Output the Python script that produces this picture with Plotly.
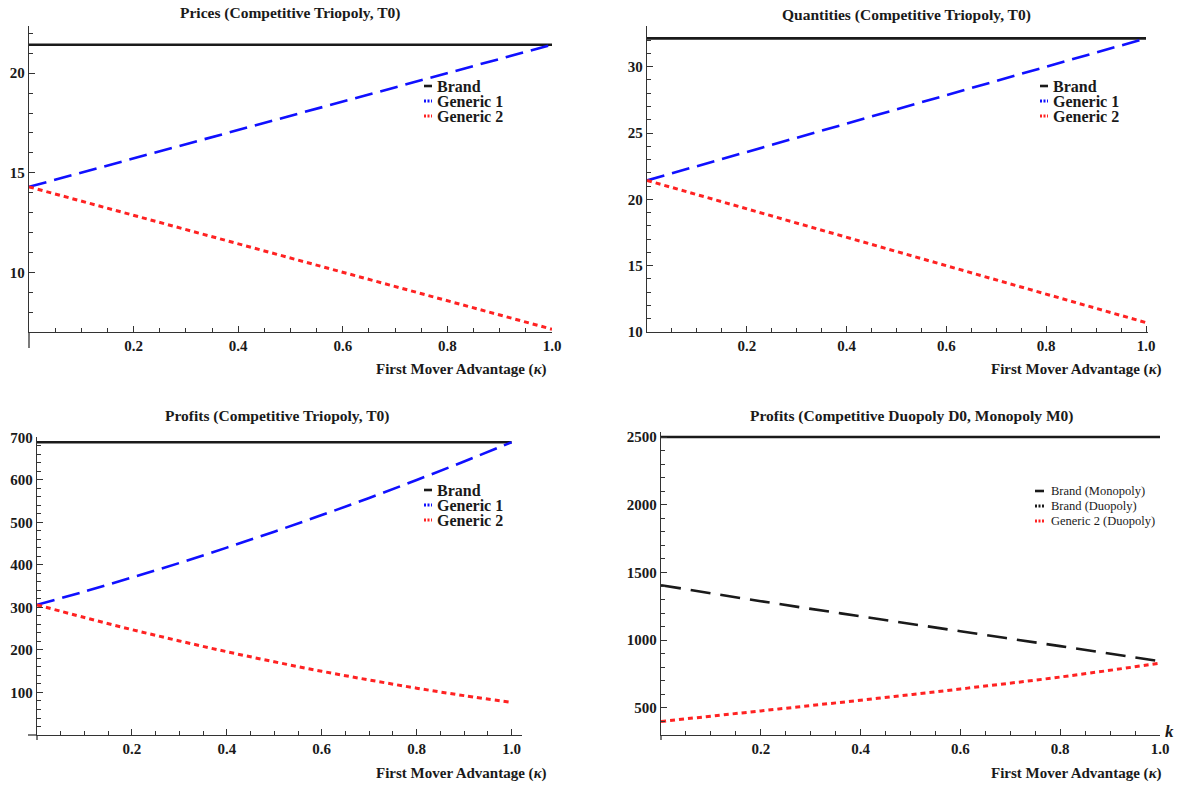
import plotly.graph_objects as go

W, H = 1182, 786

# ---------------- data ----------------
kappa_ends = [0.0, 1.0]
price_brand = [21.43, 21.43]
price_generic1 = [14.29, 21.43]
price_generic2 = [14.29, 7.14]

qty_brand = [32.14, 32.14]
qty_generic1 = [21.43, 32.14]
qty_generic2 = [21.43, 10.71]

kappa_grid = [0.0, 0.1, 0.2, 0.3, 0.4, 0.5, 0.6, 0.7, 0.8, 0.9, 1.0]
profit_brand = [688.8] * 11
profit_generic1 = [306.1, 337.5, 370.4, 404.6, 440.8, 478.3, 517.3, 557.7, 599.9, 643.4, 688.7]
profit_generic2 = [306.1, 276.3, 247.9, 221.3, 195.9, 172.2, 149.9, 129.4, 110.2, 92.6, 76.5]

kappa_duo = [0.0, 0.2, 0.4, 0.6, 0.8, 1.0]
profit_brand_mono = [2500, 2500, 2500, 2500, 2500, 2500]
profit_brand_duo = [1406, 1288, 1176, 1066, 956, 845]
profit_generic2_duo = [400, 478, 557, 640, 728, 830]

x_tick_vals = [0.2, 0.4, 0.6, 0.8, 1.0]
x_tick_text = ["0.2", "0.4", "0.6", "0.8", "1.0"]
ytick_price = [10, 15, 20]
ytick_qty = [10, 15, 20, 25, 30]
ytick_profit = [100, 200, 300, 400, 500, 600, 700]
ytick_profit2 = [500, 1000, 1500, 2000, 2500]

legend_triopoly = ["Brand", "Generic 1", "Generic 2"]
legend_duopoly = ["Brand (Monopoly)", "Brand (Duopoly)", "Generic 2 (Duopoly)"]

# ---------------- styling ----------------
SERIF = "Liberation Serif"
BLACK = "#1a1a1a"
BLUE = "#1010ff"
RED = "#ff2222"
AX = "#333333"

SOLID_B = dict(color=BLACK, width=2.6)
DASH_BLUE = dict(color=BLUE, width=2.6, dash="18px,8px")
DOT_RED = dict(color=RED, width=3, dash="5px,4px")
DASH_BLACK = dict(color=BLACK, width=2.6, dash="20px,10px")


def px(x):
    return x / W


def py(y):
    return 1 - y / H


fig = go.Figure()

# panel 1: prices
fig.add_trace(go.Scatter(x=kappa_ends, y=price_brand, mode="lines", name="Brand", line=SOLID_B, xaxis="x", yaxis="y"))
fig.add_trace(go.Scatter(x=kappa_ends, y=price_generic1, mode="lines", name="Generic 1", line=DASH_BLUE, xaxis="x", yaxis="y"))
fig.add_trace(go.Scatter(x=kappa_ends, y=price_generic2, mode="lines", name="Generic 2", line=DOT_RED, xaxis="x", yaxis="y"))

# panel 2: quantities
fig.add_trace(go.Scatter(x=kappa_ends, y=qty_brand, mode="lines", name="Brand", line=SOLID_B, xaxis="x2", yaxis="y2"))
fig.add_trace(go.Scatter(x=kappa_ends, y=qty_generic1, mode="lines", name="Generic 1", line=DASH_BLUE, xaxis="x2", yaxis="y2"))
fig.add_trace(go.Scatter(x=kappa_ends, y=qty_generic2, mode="lines", name="Generic 2", line=DOT_RED, xaxis="x2", yaxis="y2"))

# panel 3: profits triopoly
fig.add_trace(go.Scatter(x=kappa_grid, y=profit_brand, mode="lines", name="Brand", line=SOLID_B, xaxis="x3", yaxis="y3"))
fig.add_trace(go.Scatter(x=kappa_grid, y=profit_generic1, mode="lines", name="Generic 1", line_shape="spline",
                         line=DASH_BLUE, xaxis="x3", yaxis="y3"))
fig.add_trace(go.Scatter(x=kappa_grid, y=profit_generic2, mode="lines", name="Generic 2", line_shape="spline",
                         line=DOT_RED, xaxis="x3", yaxis="y3"))

# panel 4: duopoly / monopoly profits
fig.add_trace(go.Scatter(x=kappa_duo, y=profit_brand_mono, mode="lines", name="Brand (Monopoly)",
                         line=SOLID_B, xaxis="x4", yaxis="y4"))
fig.add_trace(go.Scatter(x=kappa_duo, y=profit_brand_duo, mode="lines", name="Brand (Duopoly)", line_shape="spline",
                         line=DASH_BLACK, xaxis="x4", yaxis="y4"))
fig.add_trace(go.Scatter(x=kappa_duo, y=profit_generic2_duo, mode="lines", name="Generic 2 (Duopoly)", line_shape="spline",
                         line=DOT_RED, xaxis="x4", yaxis="y4"))

tickfont = dict(family=SERIF, size=15, color=BLACK, weight="bold")


def xaxis(dom, rng, anchor):
    return dict(domain=dom, range=rng, anchor=anchor, showgrid=False, zeroline=False,
                showline=True, linecolor=AX, linewidth=1.3,
                tickmode="array", tickvals=x_tick_vals, ticktext=x_tick_text,
                ticks="inside", ticklen=6, tickwidth=1.2, tickcolor=AX, tickfont=tickfont,
                minor=dict(tickmode="linear", tick0=0, dtick=0.05, ticks="inside", ticklen=3.5,
                           tickwidth=1, tickcolor=AX),
                fixedrange=True)


def yaxis(dom, rng, anchor, vals, minor_dt):
    return dict(domain=dom, range=rng, anchor=anchor, showgrid=False, zeroline=False,
                showline=True, linecolor=AX, linewidth=1.3,
                tickmode="array", tickvals=vals, ticktext=[str(v) for v in vals],
                ticks="inside", ticklen=6, tickwidth=1.2, tickcolor=AX, tickfont=tickfont,
                minor=dict(tickmode="linear", tick0=0, dtick=minor_dt, ticks="inside", ticklen=3.5,
                           tickwidth=1, tickcolor=AX),
                fixedrange=True)


fig.update_layout(
    width=W, height=H,
    margin=dict(l=0, r=0, t=0, b=0, autoexpand=False),
    paper_bgcolor="white", plot_bgcolor="white",
    showlegend=False,
    xaxis=xaxis([px(29), px(552)], [0, 1.0], "y"),
    yaxis=yaxis([py(332), py(26)], [7.0, 22.37], "x", ytick_price, 1),
    xaxis2=xaxis([px(647), px(1148)], [0, 1.004], "y2"),
    yaxis2=yaxis([py(332), py(26)], [10, 33.07], "x2", ytick_qty, 1),
    xaxis3=xaxis([px(37), px(522)], [0, 1.022], "y3"),
    yaxis3=yaxis([py(735), py(437)], [0, 701], "x3", ytick_profit, 20),
    xaxis4=xaxis([px(661), px(1160)], [0, 1.0], "y4"),
    yaxis4=yaxis([py(735), py(432)], [300, 2537], "x4", ytick_profit2, 100),
)

# axis-line overhangs (Mathematica axes crossing)
for (x0, y0, x1, y1) in [(29, 332, 29, 348), (28, 735, 37, 735), (37, 735, 37, 740), (661, 735, 661, 740)]:
    fig.add_shape(type="line", xref="paper", yref="paper", x0=px(x0), y0=py(y0), x1=px(x1), y1=py(y1),
                  line=dict(color=AX, width=1.3))

# ---- legends (compact, Mathematica style) ----
styles3 = [SOLID_B, dict(color=BLUE, width=3, dash="2px,1.5px"), dict(color=RED, width=3, dash="2px,1.5px")]
styles4 = [SOLID_B, dict(color=BLACK, width=3, dash="2px,1.5px"), dict(color=RED, width=3, dash="2px,1.5px")]


def add_legend(x_sw, y0, names, styles, size, bold, dy, sw_len, gap):
    for i, st in enumerate(styles):
        yc = y0 + i * dy
        fig.add_shape(type="line", xref="paper", yref="paper",
                      x0=px(x_sw), x1=px(x_sw + sw_len), y0=py(yc), y1=py(yc),
                      line=dict(color=st["color"], width=st["width"], dash=st.get("dash", "solid")))
    base = dy / 1.3
    txt = "<br>".join(f"<span style='font-size:{size}px'>{n}</span>" for n in names)
    font = dict(family=SERIF, size=base, color=BLACK)
    if bold:
        font["weight"] = "bold"
    fig.add_annotation(text=txt, x=px(x_sw + sw_len + gap), y=py(y0 + dy), xref="paper", yref="paper",
                       showarrow=False, xanchor="left", yanchor="middle", align="left", font=font,
                       borderpad=0)


add_legend(424, 86, legend_triopoly, styles3, 16, True, 15, 8, 4)
add_legend(1040, 86, legend_triopoly, styles3, 16, True, 15, 8, 4)
add_legend(424, 490, legend_triopoly, styles3, 16, True, 15, 8, 4)
add_legend(1035, 491, legend_duopoly, styles4, 12.5, False, 15, 9, 6)

titlefont = dict(family=SERIF, size=15.5, color=BLACK, weight="bold")
labfont = dict(family=SERIF, size=15, color=BLACK, weight="bold")
annotations = [
    dict(text="Prices (Competitive Triopoly, T0)", x=px(290), y=py(13)),
    dict(text="Quantities (Competitive Triopoly, T0)", x=px(906), y=py(15)),
    dict(text="Profits (Competitive Triopoly, T0)", x=px(277), y=py(416)),
    dict(text="Profits (Competitive Duopoly D0, Monopoly M0)", x=px(911), y=py(416)),
]
for a in annotations:
    fig.add_annotation(text=a["text"], x=a["x"], y=a["y"], xref="paper", yref="paper",
                       showarrow=False, xanchor="center", yanchor="middle", font=titlefont)

for (xr, yc) in [(549, 370), (1164, 370), (549, 773), (1164, 773)]:
    fig.add_annotation(text="First Mover Advantage (<i>κ</i>)", x=px(xr), y=py(yc),
                       xref="paper", yref="paper", showarrow=False,
                       xanchor="right", yanchor="middle", font=labfont)

fig.add_annotation(text="<i>k</i>", x=px(1163), y=py(731), xref="paper", yref="paper",
                   showarrow=False, xanchor="left", yanchor="middle",
                   font=dict(family=SERIF, size=17, color=BLACK, weight="bold"))

fig.write_html("out.html", config={"displayModeBar": False},
               post_script="document.body.style.margin='0';document.body.style.overflow='hidden';")
